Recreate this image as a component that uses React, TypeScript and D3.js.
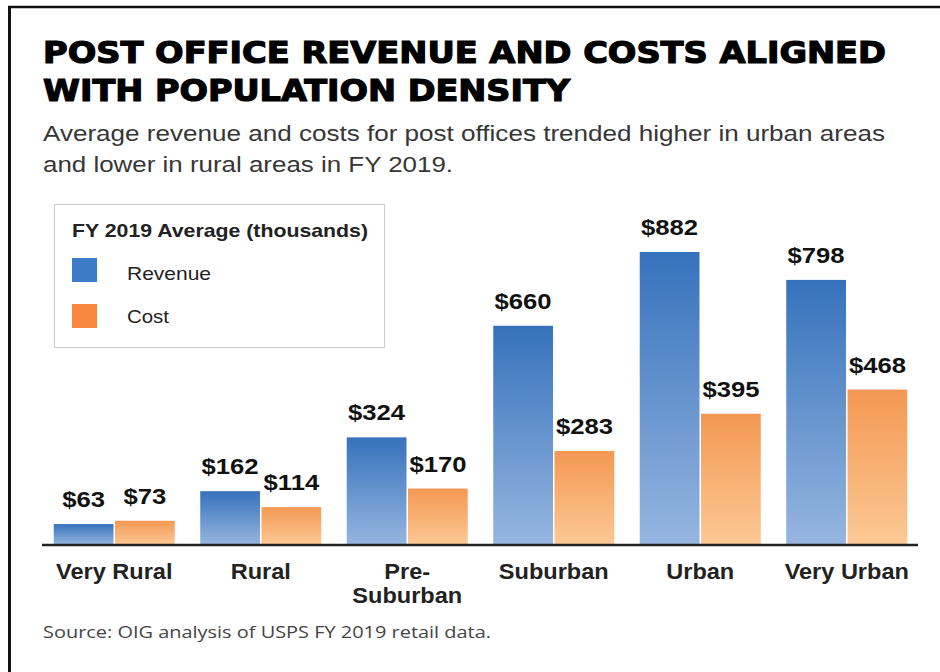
import React from "react";
import * as d3 from "d3";

const categories = ["Very Rural", "Rural", "Pre-Suburban", "Suburban", "Urban", "Very Urban"];
const seriesNames = ["Revenue", "Cost"];
const revenue = [63, 162, 324, 660, 882, 798];
const cost = [73, 114, 170, 283, 395, 468];

const titleLines = ["POST OFFICE REVENUE AND COSTS ALIGNED", "WITH POPULATION DENSITY"];
const subtitleLines = [
  "Average revenue and costs for post offices trended higher in urban areas",
  "and lower in rural areas in FY 2019.",
];
const legendTitle = "FY 2019 Average (thousands)";
const sourceText = "Source: OIG analysis of USPS FY 2019 retail data.";

const W = 940;
const H = 672;
const baseY = 545;

const swatch = { Revenue: "#3c7bc8", Cost: "#f4873b" };
const grad = {
  Revenue: ["#3672bc", "#96b6e0"],
  Cost: ["#f49853", "#fcc995"],
};

function splitLabel(c: string): string[] {
  const i = c.indexOf("-");
  if (i >= 0) return [c.slice(0, i + 1), c.slice(i + 1)];
  return [c];
}

export default function App() {
  const x = d3
    .scaleBand<string>()
    .domain(categories)
    .range([41, 920])
    .paddingInner(0.174)
    .paddingOuter(0.087);
  const xs = d3
    .scaleBand<string>()
    .domain(seriesNames)
    .range([0, x.bandwidth()])
    .paddingInner(0.025);
  const y = d3.scaleLinear().domain([0, 882]).range([baseY, 252]);

  const rows = categories.map((c, i) => ({ c, vals: [revenue[i], cost[i]] }));

  return (
    <svg
      width={W}
      height={H}
      style={{ position: "absolute", left: 0, top: 0, background: "#fff" }}
      fontFamily="'Liberation Sans', Arial, sans-serif"
    >
      <defs>
        {seriesNames.map((s) => (
          <linearGradient key={s} id={`g-${s}`} x1="0" y1="0" x2="0" y2="1">
            <stop offset="0" stopColor={(grad as any)[s][0]} />
            <stop offset="1" stopColor={(grad as any)[s][1]} />
          </linearGradient>
        ))}
      </defs>
      <rect x={0} y={0} width={W} height={H} fill="#fff" />
      {/* frame */}
      <line x1={8} y1={7} x2={W} y2={7} stroke="#111" strokeWidth={2.5} />
      <line x1={9.5} y1={6} x2={9.5} y2={H} stroke="#111" strokeWidth={3} />

      {/* title */}
      {titleLines.map((t, i) => (
        <text
          key={t}
          x={43}
          y={63 + i * 37.5}
          fontFamily="'DejaVu Sans', sans-serif"
          fontWeight="bold"
          fontSize={30}
          fill="#000"
          stroke="#000"
          strokeWidth={1.2}
          textLength={i === 0 ? 843 : 527}
          lengthAdjust="spacingAndGlyphs"
        >
          {t}
        </text>
      ))}
      {subtitleLines.map((t, i) => (
        <text
          key={t}
          x={43}
          y={141 + i * 31}
          fontSize={22}
          fill="#363636"
          textLength={i === 0 ? 842 : 410}
          lengthAdjust="spacingAndGlyphs"
        >
          {t}
        </text>
      ))}

      {/* legend */}
      <rect x={54.5} y={204.5} width={330} height={143} fill="#fff" stroke="#cacaca" strokeWidth={1} />
      <text
        x={72}
        y={237}
        fontSize={19}
        fontWeight="bold"
        fill="#222"
        textLength={296}
        lengthAdjust="spacingAndGlyphs"
      >
        {legendTitle}
      </text>
      {seriesNames.map((s, i) => (
        <g key={s}>
          <rect x={72} y={258 + i * 46} width={25} height={24} fill={(swatch as any)[s]} />
          <text
            x={127}
            y={280 + i * 43}
            fontSize={19}
            fill="#222"
            textLength={s === "Revenue" ? 84 : 42}
            lengthAdjust="spacingAndGlyphs"
          >
            {s}
          </text>
        </g>
      ))}

      {/* bars */}
      {rows.map((r) => (
        <g key={r.c} transform={`translate(${x(r.c)},0)`}>
          {seriesNames.map((s, j) => {
            const v = r.vals[j];
            const bx = xs(s)!;
            const bw = xs.bandwidth();
            const top = y(v);
            return (
              <g key={s}>
                <rect x={bx} y={top} width={bw} height={baseY - top} fill={`url(#g-${s})`} />
                <text
                  transform={`translate(${bx + bw / 2},${top - 17}) scale(1.14,1)`}
                  textAnchor="middle"
                  fontSize={22.5}
                  fontWeight="bold"
                  fill="#111"
                >
                  {`$${v}`}
                </text>
              </g>
            );
          })}
        </g>
      ))}

      {/* axis */}
      <line x1={42} y1={baseY} x2={918} y2={baseY} stroke="#222" strokeWidth={2.5} />
      {categories.map((c) => {
        const cx = x(c)! + x.bandwidth() / 2;
        return splitLabel(c).map((line, k) => (
          <text
            key={c + k}
            transform={`translate(${cx},${579 + k * 24}) scale(1.07,1)`}
            textAnchor="middle"
            fontSize={22}
            fontWeight="bold"
            fill="#222"
          >
            {line}
          </text>
        ));
      })}

      {/* source */}
      <text
        x={43}
        y={638}
        fontFamily="'Open Sans', sans-serif"
        fontSize={17}
        fill="#444"
        textLength={448}
        lengthAdjust="spacingAndGlyphs"
      >
        {sourceText}
      </text>
    </svg>
  );
}
